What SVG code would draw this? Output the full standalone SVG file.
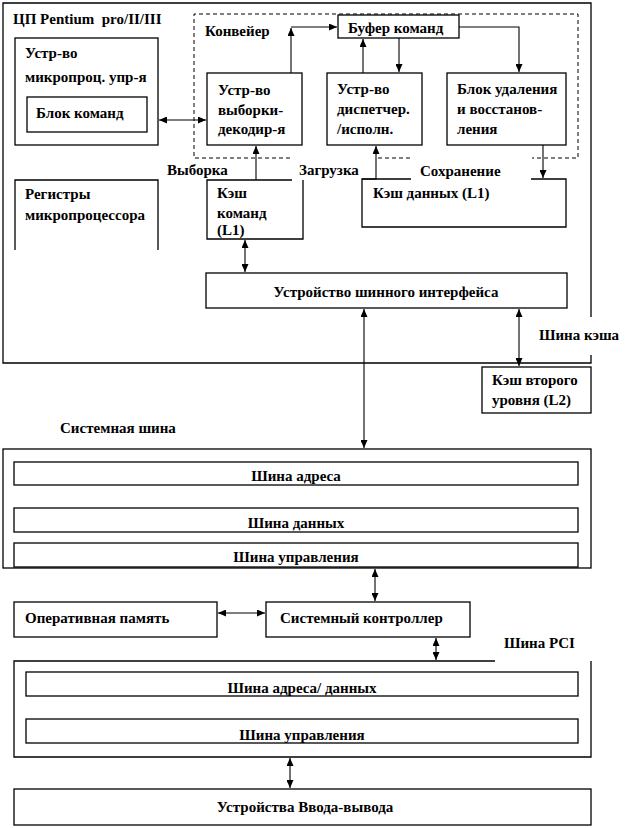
<svg xmlns="http://www.w3.org/2000/svg" width="641" height="828" viewBox="0 0 641 828">
<style>
.b{fill:#fff;stroke:#000;stroke-width:1.3}
.o{fill:none;stroke:#000;stroke-width:1.3}
.d{fill:none;stroke:#000;stroke-width:1;stroke-dasharray:4 3}
.c{fill:none;stroke:#000;stroke-width:1.1}
text{font-family:"Liberation Serif","Times New Roman",serif;font-weight:bold;font-size:15px;fill:#000}
.m{text-anchor:middle}
</style>
<defs>
<marker id="a" viewBox="0 0 8 7" refX="8" refY="3.5" markerWidth="8" markerHeight="7" markerUnits="userSpaceOnUse" orient="auto-start-reverse">
<path d="M0,0 L8,3.5 L0,7 z" fill="#000"/>
</marker>
</defs>
<rect width="641" height="828" fill="#fff"/>

<g id="cpu">
<path class="o" d="M591,317 V3 H3 V363 H591 V355"/>
<text x="13" y="24" xml:space="preserve">ЦП Pentium  pro/II/III</text>
</g>
<g id="conveyor">
<path class="d" d="M290,158 H194 V14 H578 V158 H532 M410,158 H377"/>
<text x="205" y="36">Конвейер</text>
</g>
<g id="mpu">
<rect class="b" x="15" y="38" width="143" height="107"/>
<text x="25" y="58">Устр-во</text>
<text x="25" y="82">микропроц. упр-я</text>
</g>
<g id="blok-komand">
<rect class="b" x="27" y="97" width="120" height="35"/>
<text x="36" y="118">Блок команд</text>
</g>
<g id="registers">
<path class="o" d="M15,250 V180 H158 V250"/>
<text x="25" y="199">Регистры</text>
<text x="25" y="220">микропроцессора</text>
</g>
<g id="bufer">
<rect class="b" x="338" y="15" width="121" height="23"/>
<text x="348" y="33">Буфер команд</text>
</g>
<g id="vyborka-dev">
<rect class="b" x="207" y="73" width="95" height="72"/>
<text x="218" y="95">Устр-во</text>
<text x="218" y="115">выборки-</text>
<text x="218" y="134">декодир-я</text>
</g>
<g id="dispatch">
<rect class="b" x="327" y="73" width="95" height="72"/>
<text x="337" y="94">Устр-во</text>
<text x="337" y="114">диспетчер.</text>
<text x="337" y="134">/исполн.</text>
</g>
<g id="retire">
<rect class="b" x="447" y="73" width="119" height="72"/>
<text x="457" y="94">Блок удаления</text>
<text x="457" y="114">и восстанов-</text>
<text x="457" y="134">ления</text>
</g>
<g id="labels">
<text x="167" y="175">Выборка</text>
<text x="299" y="175">Загрузка</text>
<text x="420" y="176">Сохранение</text>
</g>
<g id="icache">
<path class="o" d="M292,180 H207 V239 H303 V180"/>
<text x="217" y="198">Кэш</text>
<text x="217" y="218">команд</text>
<text x="217" y="235">(L1)</text>
</g>
<g id="dcache">
<path class="o" d="M411,179 H362 V227 H566 V179 H531"/>
<text x="373" y="198">Кэш данных (L1)</text>
</g>
<g id="biu">
<rect class="b" x="206" y="273" width="361" height="35"/>
<text class="m" x="386" y="297">Устройство шинного интерфейса</text>
</g>
<g id="l2">
<rect class="b" x="482" y="367" width="109" height="46"/>
<text x="492" y="385">Кэш второго</text>
<text x="492" y="405">уровня (L2)</text>
</g>
<g id="l2-label"><text x="539" y="340">Шина кэша</text></g>
<g id="sysbus-label"><text x="60" y="433">Системная шина</text></g>
<g id="sysbus">
<rect class="b" x="3" y="449" width="588" height="119"/>
<rect class="b" x="14" y="462" width="564" height="23"/>
<text class="m" x="296" y="481">Шина адреса</text>
<rect class="b" x="14" y="508" width="564" height="24"/>
<text class="m" x="296" y="528">Шина данных</text>
<rect class="b" x="14" y="543" width="564" height="24"/>
<text class="m" x="296" y="562">Шина управления</text>
</g>
<g id="ram">
<rect class="b" x="14" y="602" width="203" height="35"/>
<text x="25" y="623">Оперативная память</text>
</g>
<g id="sysctl">
<rect class="b" x="266" y="602" width="204" height="35"/>
<text x="280" y="623">Системный контроллер</text>
</g>
<g id="pci-label"><text x="504" y="648">Шина PCI</text></g>
<g id="pci">
<path class="o" d="M495,661 H14 V757 H591 V661"/>
<rect class="b" x="26" y="672" width="552" height="24"/>
<text class="m" x="302" y="693">Шина адреса/ данных</text>
<rect class="b" x="26" y="719" width="552" height="24"/>
<text class="m" x="302" y="740">Шина управления</text>
</g>
<g id="io">
<rect class="b" x="14" y="789" width="577" height="36"/>
<text class="m" x="305" y="812">Устройства Ввода-вывода</text>
</g>

<g id="connectors">
<line class="c" x1="159" y1="120" x2="206" y2="120" marker-start="url(#a)" marker-end="url(#a)"/>
<line class="c" x1="291" y1="73" x2="291" y2="28" marker-end="url(#a)"/>
<line class="c" x1="291" y1="27" x2="337" y2="27" marker-end="url(#a)"/>
<line class="c" x1="363" y1="73" x2="363" y2="39" marker-end="url(#a)"/>
<line class="c" x1="399" y1="38" x2="399" y2="72" marker-end="url(#a)"/>
<polyline class="c" points="459,27 519,27 519,72" marker-end="url(#a)"/>
<line class="c" x1="543" y1="145" x2="543" y2="178" marker-end="url(#a)"/>
<polyline class="c" points="362,179 376,179 376,146" marker-end="url(#a)"/>
<line class="c" x1="256" y1="180" x2="256" y2="146" marker-end="url(#a)"/>
<line class="c" x1="245" y1="240" x2="245" y2="272" marker-start="url(#a)" marker-end="url(#a)"/>
<line class="c" x1="519" y1="309" x2="519" y2="366" marker-start="url(#a)" marker-end="url(#a)"/>
<line class="c" x1="364" y1="309" x2="364" y2="448" marker-start="url(#a)" marker-end="url(#a)"/>
<line class="c" x1="375" y1="569" x2="375" y2="601" marker-start="url(#a)" marker-end="url(#a)"/>
<line class="c" x1="218" y1="613" x2="265" y2="613" marker-start="url(#a)" marker-end="url(#a)"/>
<line class="c" x1="436" y1="638" x2="436" y2="660" marker-start="url(#a)" marker-end="url(#a)"/>
<line class="c" x1="290" y1="758" x2="290" y2="788" marker-start="url(#a)" marker-end="url(#a)"/>
</g>
</svg>
